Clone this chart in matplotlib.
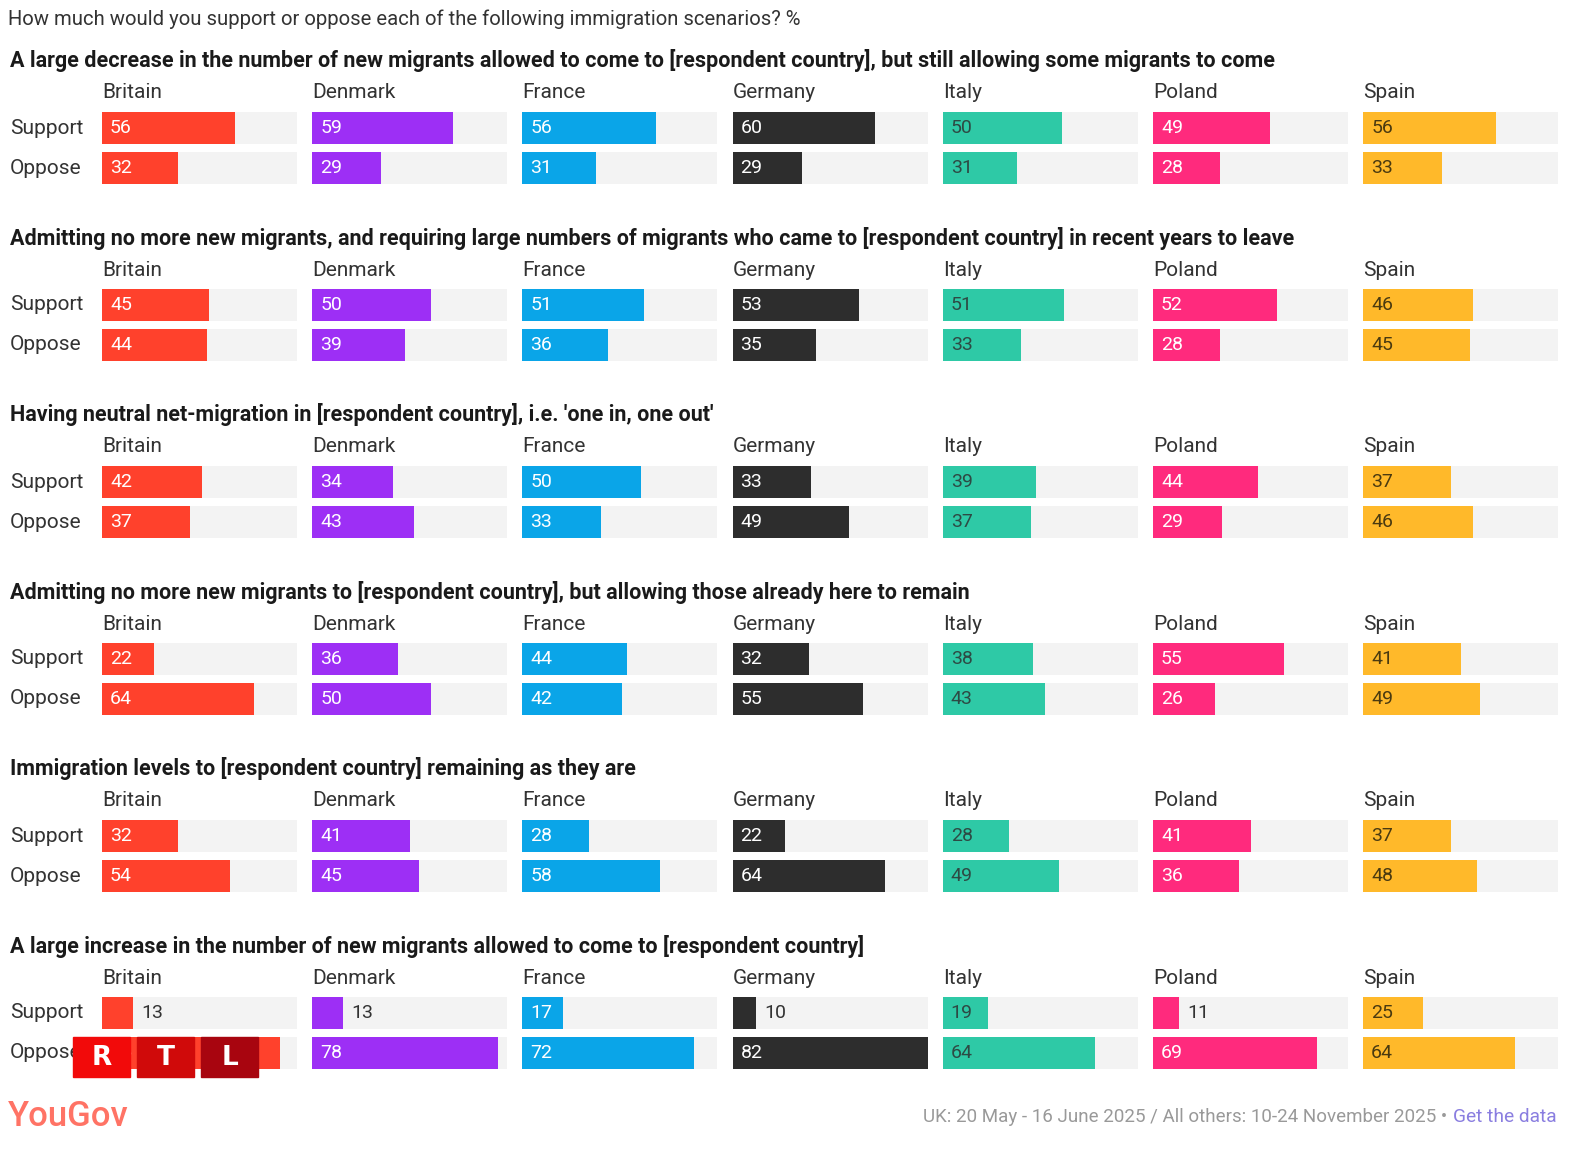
import matplotlib.pyplot as plt
from matplotlib.patches import Rectangle

countries = ['Britain', 'Denmark', 'France', 'Germany', 'Italy', 'Poland', 'Spain']
colors = ['#ff412c', '#9d2ff5', '#0aa5e8', '#2d2d2d', '#2ec9a6', '#ff2a7d', '#ffb92a']
label_colors = ['white', 'white', 'white', 'white', '#2d4a44', 'white', '#4a3a10']

scenarios = [
    "A large decrease in the number of new migrants allowed to come to [respondent country], but still allowing some migrants to come",
    "Admitting no more new migrants, and requiring large numbers of migrants who came to [respondent country] in recent years to leave",
    "Having neutral net-migration in [respondent country], i.e. 'one in, one out'",
    "Admitting no more new migrants to [respondent country], but allowing those already here to remain",
    "Immigration levels to [respondent country] remaining as they are",
    "A large increase in the number of new migrants allowed to come to [respondent country]",
]

support = [
    [56, 59, 56, 60, 50, 49, 56],
    [45, 50, 51, 53, 51, 52, 46],
    [42, 34, 50, 33, 39, 44, 37],
    [22, 36, 44, 32, 38, 55, 41],
    [32, 41, 28, 22, 28, 41, 37],
    [13, 13, 17, 10, 19, 11, 25],
]
oppose = [
    [32, 29, 31, 29, 31, 28, 33],
    [44, 39, 36, 35, 33, 28, 45],
    [37, 43, 33, 49, 37, 29, 46],
    [64, 50, 42, 55, 43, 26, 49],
    [54, 45, 58, 64, 49, 36, 48],
    [75, 78, 72, 82, 64, 69, 64],
]

W, H = 1572, 1154
plt.rcParams['font.family'] = ['Roboto', 'DejaVu Sans']

fig = plt.figure(figsize=(W / 100, H / 100), dpi=100)
ax = fig.add_axes([0, 0, 1, 1])
ax.set_xlim(0, W)
ax.set_ylim(H, 0)
ax.axis('off')

col_x0 = 102
col_step = 210.2
bar_w = 195
vmax = 82
scale = bar_w / vmax
bar_h = 32

ax.text(8, 19, "How much would you support or oppose each of the following immigration scenarios? %",
        fontsize=14.6, color='#333333', va='center', ha='left')

for i, title in enumerate(scenarios):
    y0 = 61 + i * 177
    ax.text(10, y0, title, fontsize=15.5, fontweight='bold', color='#1a1a1a', va='center', ha='left')
    for j, c in enumerate(countries):
        x = col_x0 + j * col_step
        ax.text(x, y0 + 32, c, fontsize=15, color='#333333', va='center', ha='left')
        for k, (lab, vals) in enumerate([('Support', support), ('Oppose', oppose)]):
            yc = y0 + 67 + k * 40
            v = vals[i][j]
            ax.barh(yc, bar_w, left=x, height=bar_h, color='#f3f3f3')
            ax.barh(yc, v * scale, left=x, height=bar_h, color=colors[j])
            if v < 15:
                ax.text(x + v * scale + 8, yc, str(v), fontsize=14, color='#333333', va='center')
            else:
                ax.text(x + 8, yc, str(v), fontsize=14, color=label_colors[j], va='center')
            if j == 0:
                ax.text(10, yc, lab, fontsize=15, color='#333333', va='center', ha='left')

# RTL logo overlay
for x, letter, col in [(73, 'R', '#f20a0a'), (137, 'T', '#d00a0a'), (201, 'L', '#a8050f')]:
    ax.add_patch(Rectangle((x, 1037), 57, 40, color=col, zorder=5))
    ax.text(x + 28.5, 1058, letter, fontsize=19, fontweight='bold', color='white',
            ha='center', va='center', zorder=6, family='DejaVu Sans')

# footer
ax.text(8, 1116, 'YouGov', fontsize=25, fontweight='medium', color='#ff5a4a',
        va='center', ha='left', alpha=0.85)
gd = ax.text(1557, 1117, 'Get the data', fontsize=13.8, color='#8a7ee0', va='center', ha='right')
renderer = fig.canvas.get_renderer()
gd_left = gd.get_window_extent(renderer).x0
ax.text(gd_left - 6, 1117, 'UK: 20 May - 16 June 2025 / All others: 10-24 November 2025 \u2022',
        fontsize=13.5, color='#999999', va='center', ha='right')

fig.savefig('out.png', dpi=100)
